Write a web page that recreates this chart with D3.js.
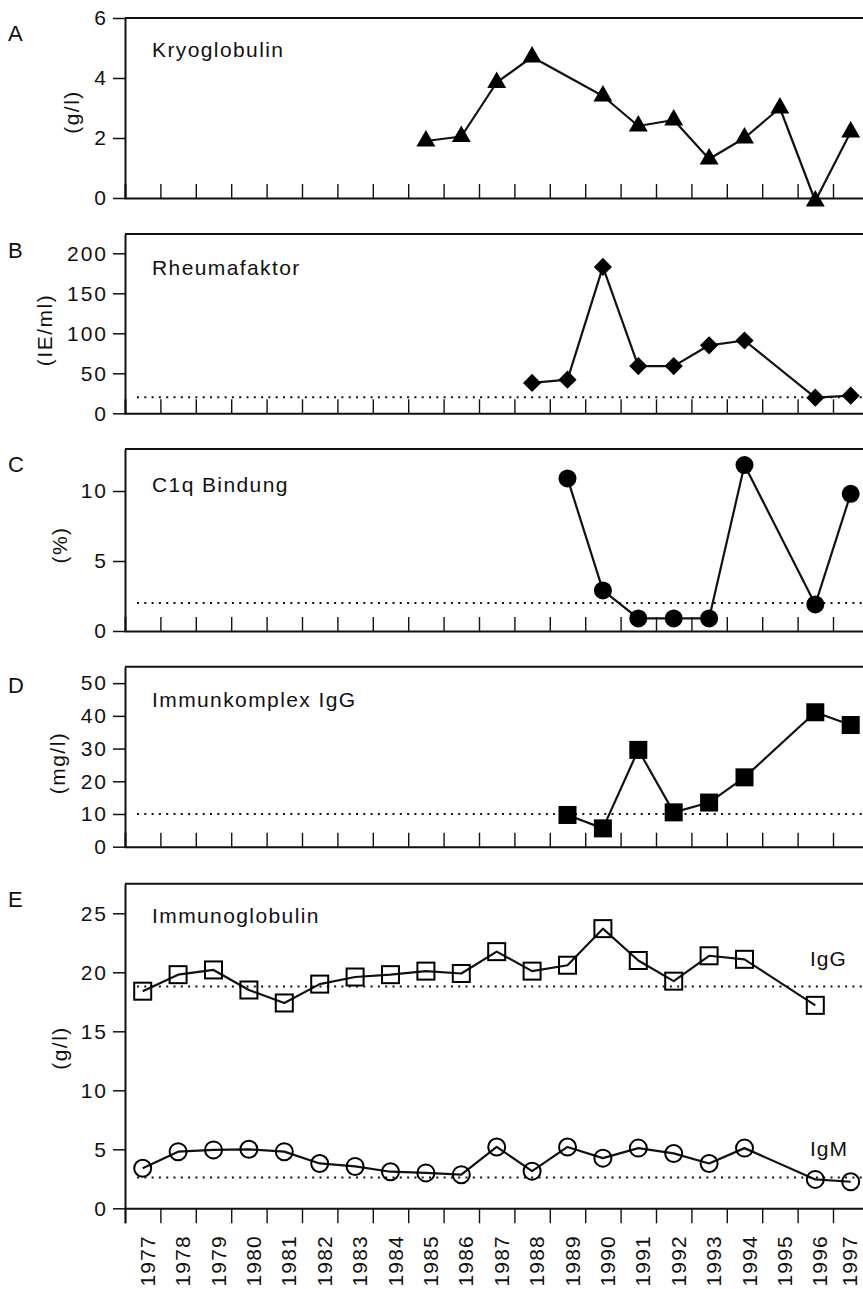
<!DOCTYPE html>
<html>
<head>
<meta charset="utf-8">
<script src="https://cdn.jsdelivr.net/npm/d3@7"></script>
<style>
  html, body { margin: 0; padding: 0; background: #fff; }
  svg { display: block; }
  text { font-family: "Liberation Sans", Arial, Helvetica, sans-serif; fill: #111; }
</style>
</head>
<body>
<div id="chart"></div>
<script>
// ---- data ----
const years = [1977, 1978, 1979, 1980, 1981, 1982, 1983, 1984, 1985, 1986, 1987,
  1988, 1989, 1990, 1991, 1992, 1993, 1994, 1995, 1996, 1997];

const kryoYears = [1985, 1986, 1987, 1988, 1990, 1991, 1992, 1993, 1994, 1995, 1996, 1997];
const kryoValues = [1.9, 2.05, 3.85, 4.7, 3.4, 2.4, 2.6, 1.3, 2.0, 3.0, -0.1, 2.2];

const rheumaYears = [1988, 1989, 1990, 1991, 1992, 1993, 1994, 1996, 1997];
const rheumaValues = [38, 42, 183, 59, 59, 85, 91, 19.5, 22];
const rheumaNormal = 20;

const c1qYears = [1989, 1990, 1991, 1992, 1993, 1994, 1996, 1997];
const c1qValues = [10.9, 2.9, 0.9, 0.9, 0.9, 11.85, 1.9, 9.8];
const c1qNormal = 2;

const ikYears = [1989, 1990, 1991, 1992, 1993, 1994, 1996, 1997];
const ikValues = [9.7, 5.6, 29.6, 10.5, 13.5, 21.2, 41.1, 37.2];
const ikNormal = 10;

const iggYears = [1977, 1978, 1979, 1980, 1981, 1982, 1983, 1984, 1985, 1986, 1987,
  1988, 1989, 1990, 1991, 1992, 1993, 1994, 1996];
const iggValues = [18.4, 19.8, 20.2, 18.5, 17.4, 19.0, 19.6, 19.8, 20.1, 19.9, 21.75,
  20.1, 20.6, 23.7, 21.0, 19.25, 21.4, 21.1, 17.2];
const iggNormal = 18.8;

const igmYears = [1977, 1978, 1979, 1980, 1981, 1982, 1983, 1984, 1985, 1986, 1987,
  1988, 1989, 1990, 1991, 1992, 1993, 1994, 1996, 1997];
const igmValues = [3.4, 4.8, 4.95, 5.0, 4.8, 3.8, 3.55, 3.1, 3.0, 2.85, 5.2,
  3.15, 5.2, 4.25, 5.1, 4.65, 3.8, 5.1, 2.45, 2.25];
const igmNormal = 2.6;

// ---- layout ----
const W = 863, H = 1289;
const LEFT = 125, STEP = 35.4;
const FONT = 21;

const svg = d3.select('#chart').append('svg')
  .attr('width', W).attr('height', H)
  .attr('viewBox', `0 0 ${W} ${H}`);

const x = d3.scaleLinear()
  .domain([years[0] - 0.5, years[years.length - 1] + 0.5])
  .range([LEFT, LEFT + STEP * years.length]);

const edges = d3.range(years[0] - 0.5, years[years.length - 1] + 0.5, 1);

const zip = (ys, vs) => ys.map((yr, i) => ({ year: yr, value: vs[i] }));

const panels = [
  {
    letter: 'A', letterY: 41, title: 'Kryoglobulin', titleY: 57,
    unit: '(g/l)', unitX: 79, unitY: 112,
    domain: [0, 6], range: [198, 18], ticks: [0, 2, 4, 6],
    series: [{ data: zip(kryoYears, kryoValues), marker: 'triangle' }],
    normals: []
  },
  {
    letter: 'B', letterY: 258, title: 'Rheumafaktor', titleY: 275,
    unit: '(IE/ml)', unitX: 52, unitY: 330,
    domain: [0, 224], range: [413.3, 234.1], ticks: [0, 50, 100, 150, 200],
    series: [{ data: zip(rheumaYears, rheumaValues), marker: 'diamond' }],
    normals: [rheumaNormal]
  },
  {
    letter: 'C', letterY: 472, title: 'C1q Bindung', titleY: 492,
    unit: '(%)', unitX: 67, unitY: 545,
    domain: [0, 13], range: [631, 449], ticks: [0, 5, 10],
    series: [{ data: zip(c1qYears, c1qValues), marker: 'circle' }],
    normals: [c1qNormal]
  },
  {
    letter: 'D', letterY: 693, title: 'Immunkomplex IgG', titleY: 707,
    unit: '(mg/l)', unitX: 65, unitY: 763,
    domain: [0, 55], range: [846.7, 666.8], ticks: [0, 10, 20, 30, 40, 50],
    series: [{ data: zip(ikYears, ikValues), marker: 'square' }],
    normals: [ikNormal]
  },
  {
    letter: 'E', letterY: 907, title: 'Immunoglobulin', titleY: 923,
    unit: '(g/l)', unitX: 67, unitY: 1048,
    domain: [0, 27.5], range: [1208.3, 883.8], ticks: [0, 5, 10, 15, 20, 25],
    series: [
      { data: zip(iggYears, iggValues), marker: 'openSquare', label: 'IgG', labelY: 966 },
      { data: zip(igmYears, igmValues), marker: 'openCircle', label: 'IgM', labelY: 1156 }
    ],
    normals: [iggNormal, igmNormal],
    bottom: true
  }
];

function drawMarker(g, marker, cx, cy) {
  if (marker === 'triangle') {
    g.append('path').attr('d', d3.symbol(d3.symbolTriangle, 155)())
      .attr('transform', `translate(${cx},${cy})`).attr('fill', '#000');
  } else if (marker === 'diamond') {
    g.append('path').attr('d', d3.symbol(d3.symbolSquare, 165)())
      .attr('transform', `translate(${cx},${cy}) rotate(45)`).attr('fill', '#000');
  } else if (marker === 'circle') {
    g.append('circle').attr('cx', cx).attr('cy', cy).attr('r', 9).attr('fill', '#000');
  } else if (marker === 'square') {
    g.append('rect').attr('x', cx - 9).attr('y', cy - 9)
      .attr('width', 18).attr('height', 18).attr('fill', '#000');
  } else if (marker === 'openSquare') {
    g.append('rect').attr('x', cx - 8.5).attr('y', cy - 8.5)
      .attr('width', 17).attr('height', 17)
      .attr('fill', 'none').attr('stroke', '#000').attr('stroke-width', 2);
  } else if (marker === 'openCircle') {
    g.append('circle').attr('cx', cx).attr('cy', cy).attr('r', 8.5)
      .attr('fill', 'none').attr('stroke', '#000').attr('stroke-width', 2);
  }
}

panels.forEach((p) => {
  const y = d3.scaleLinear().domain(p.domain).range(p.range);
  const g = svg.append('g');
  const yBottom = y(0);
  const yTop = y(p.domain[1]);

  // top frame line
  g.append('line')
    .attr('x1', LEFT).attr('x2', x.range()[1])
    .attr('y1', yTop).attr('y2', yTop)
    .attr('stroke', '#111').attr('stroke-width', 2);

  // normal range (dotted)
  p.normals.forEach((n) => {
    g.append('line')
      .attr('x1', 137).attr('x2', x.range()[1])
      .attr('y1', y(n)).attr('y2', y(n))
      .attr('stroke', '#111').attr('stroke-width', 2)
      .attr('stroke-dasharray', '2 5.3');
  });

  // y axis
  const yAxisG = g.append('g').attr('transform', `translate(${LEFT},0)`)
    .call(d3.axisLeft(y).tickValues(p.ticks).tickFormat(d3.format('d'))
      .tickSize(12).tickSizeOuter(0).tickPadding(5));
  yAxisG.attr('font-family', null).attr('font-size', null);
  yAxisG.select('.domain').attr('stroke', '#111').attr('stroke-width', 2);
  yAxisG.selectAll('.tick line').attr('stroke', '#111').attr('stroke-width', 1.5);
  yAxisG.selectAll('.tick text')
    .style('font-size', `${FONT}px`).style('letter-spacing', '2px')
    .attr('fill', '#111');

  // x axis
  const xAxis = d3.axisBottom(x).tickFormat('').tickSizeOuter(0);
  if (p.bottom) {
    xAxis.tickValues(edges).tickSize(15);
  } else {
    xAxis.tickValues(edges.slice(1)).tickSize(-14);
  }
  const xAxisG = g.append('g').attr('transform', `translate(0,${yBottom})`).call(xAxis);
  xAxisG.select('.domain').attr('stroke', '#111').attr('stroke-width', 2);
  xAxisG.selectAll('.tick line').attr('stroke', '#111').attr('stroke-width', 1.4);

  if (p.bottom) {
    g.selectAll('.year')
      .data(years)
      .join('text')
      .attr('class', 'year')
      .attr('transform', (d) => `translate(${Math.min(x(d) + 12, 857)},1235) rotate(-90)`)
      .attr('text-anchor', 'end')
      .style('font-size', `${FONT}px`)
      .style('letter-spacing', '1.2px')
      .text((d) => d);
  }

  // series
  p.series.forEach((s) => {
    const line = d3.line().x((d) => x(d.year)).y((d) => y(d.value));
    g.append('path').datum(s.data)
      .attr('d', line)
      .attr('fill', 'none').attr('stroke', '#111').attr('stroke-width', 2.2)
      .attr('stroke-linejoin', 'round');
    const mg = g.append('g');
    s.data.forEach((d) => drawMarker(mg, s.marker, x(d.year), y(d.value)));
    if (s.label) {
      g.append('text').attr('x', 810).attr('y', s.labelY)
        .style('font-size', `${FONT}px`).style('letter-spacing', '1px')
        .text(s.label);
    }
  });

  // panel letter, title, unit
  g.append('text').attr('x', 8).attr('y', p.letterY)
    .style('font-size', '22px').text(p.letter);
  g.append('text').attr('x', 152).attr('y', p.titleY)
    .style('font-size', `${FONT}px`).style('letter-spacing', '1.4px')
    .text(p.title);
  g.append('text')
    .attr('transform', `translate(${p.unitX},${p.unitY}) rotate(-90)`)
    .attr('text-anchor', 'middle')
    .style('font-size', `${FONT}px`).style('letter-spacing', '1.5px')
    .text(p.unit);
});
</script>
</body>
</html>
